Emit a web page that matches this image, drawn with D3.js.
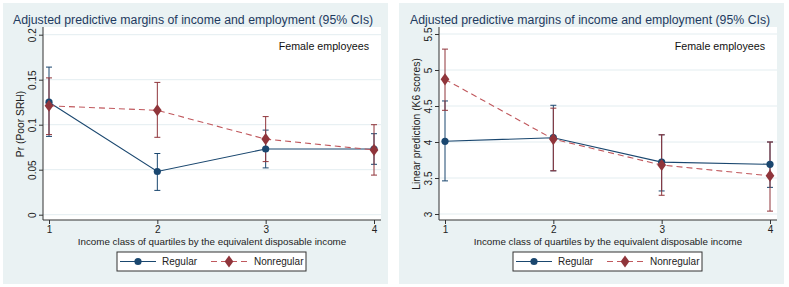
<!DOCTYPE html>
<html>
<head>
<meta charset="utf-8">
<script src="https://cdn.jsdelivr.net/npm/d3@7"></script>
<style>
  body { margin: 0; background: #ffffff; }
  text { font-family: "Liberation Sans", Arial, sans-serif; }
</style>
</head>
<body>
<div id="chart"></div>
<script>
// income quartile classes
var categories = [1, 2, 3, 4];

// left panel: Pr(Poor SRH)
var srhTicks = [0, 0.05, 0.1, 0.15, 0.2];
var srhTickLabels = ["0", "0.05", "0.1", "0.15", "0.2"];
var srhRegular = [0.125, 0.048, 0.073, 0.073];
var srhRegularLo = [0.087, 0.027, 0.052, 0.056];
var srhRegularHi = [0.164, 0.068, 0.094, 0.090];
var srhNonregular = [0.121, 0.116, 0.084, 0.072];
var srhNonregularLo = [0.089, 0.086, 0.059, 0.044];
var srhNonregularHi = [0.152, 0.147, 0.109, 0.100];

// right panel: K6 scores
var k6Ticks = [3, 3.5, 4, 4.5, 5, 5.5];
var k6TickLabels = ["3", "3.5", "4", "4.5", "5", "5.5"];
var k6Regular = [4.01, 4.06, 3.72, 3.69];
var k6RegularLo = [3.46, 3.60, 3.32, 3.37];
var k6RegularHi = [4.57, 4.51, 4.10, 4.00];
var k6Nonregular = [4.87, 4.04, 3.68, 3.53];
var k6NonregularLo = [4.44, 3.60, 3.26, 3.04];
var k6NonregularHi = [5.29, 4.47, 4.10, 4.00];

var seriesNames = ["Regular", "Nonregular"];

var w = 789;
var h = 287;
var navy = "#1a476f";
var maroon = "#90353b";
var bgColor = "#eaf2f3";

var svg = d3.select("#chart")
  .append("svg")
  .attr("width", w)
  .attr("height", h);

function drawPanel(ox, opts) {
  var g = svg.append("g").attr("transform", "translate(" + ox + ",0)");

  // graph region
  g.append("rect")
    .attr("x", 3).attr("y", 3)
    .attr("width", 385).attr("height", 281)
    .attr("fill", bgColor);

  // plot region
  var left = 43, right = 381, top = 27, bottom = 220;
  g.append("rect")
    .attr("x", left).attr("y", top)
    .attr("width", right - left).attr("height", bottom - top)
    .attr("fill", "#ffffff");

  var xScale = d3.scaleLinear().domain([1, 4]).range([49, 374]);
  var yScale = d3.scaleLinear().domain(opts.yDomain).range(opts.yRange);

  // gridlines
  g.selectAll("line.grid")
    .data(opts.ticks)
    .enter()
    .append("line")
    .attr("class", "grid")
    .attr("x1", left).attr("x2", right)
    .attr("y1", function(d) { return yScale(d); })
    .attr("y2", function(d) { return yScale(d); })
    .attr("stroke", "#e3edf0")
    .attr("stroke-width", 1);

  // y axis
  var yAxis = d3.axisLeft(yScale)
    .tickValues(opts.ticks)
    .tickSize(4)
    .tickSizeOuter(0)
    .tickFormat(function(d, i) { return opts.tickLabels[i]; });
  var ya = g.append("g").attr("transform", "translate(" + left + ",0)").call(yAxis);
  ya.select(".domain").remove();
  ya.selectAll(".tick line").attr("stroke", "#333");
  ya.selectAll(".tick text")
    .attr("x", 0).attr("y", 0).attr("dy", "0.35em")
    .attr("text-anchor", "middle")
    .attr("transform", "translate(-11,0) rotate(-90)")
    .attr("font-size", 10)
    .attr("fill", "#222");
  g.append("line")
    .attr("x1", left).attr("x2", left)
    .attr("y1", top).attr("y2", bottom)
    .attr("stroke", "#333");

  // x axis
  var xAxis = d3.axisBottom(xScale).tickValues(categories).tickSize(4).tickSizeOuter(0)
    .tickFormat(d3.format("d"));
  var xa = g.append("g").attr("transform", "translate(0," + bottom + ")").call(xAxis);
  xa.select(".domain").remove();
  xa.selectAll(".tick line").attr("stroke", "#333");
  xa.selectAll(".tick text").attr("y", 6).attr("font-size", 10).attr("fill", "#222");
  g.append("line")
    .attr("x1", left).attr("x2", right)
    .attr("y1", bottom).attr("y2", bottom)
    .attr("stroke", "#333");

  // CI caps
  function drawCI(lo, hi, color) {
    var cg = g.append("g");
    categories.forEach(function(c, i) {
      var x = xScale(c);
      cg.append("line").attr("x1", x).attr("x2", x)
        .attr("y1", yScale(lo[i])).attr("y2", yScale(hi[i]))
        .attr("stroke", color).attr("stroke-width", 1);
      [lo[i], hi[i]].forEach(function(v) {
        cg.append("line").attr("x1", x - 3).attr("x2", x + 3)
          .attr("y1", yScale(v)).attr("y2", yScale(v))
          .attr("stroke", color).attr("stroke-width", 1);
      });
    });
  }
  drawCI(opts.regLo, opts.regHi, navy);
  drawCI(opts.nonLo, opts.nonHi, maroon);

  var line = d3.line()
    .x(function(d, i) { return xScale(categories[i]); })
    .y(function(d) { return yScale(d); });

  g.append("path").datum(opts.reg)
    .attr("d", line).attr("fill", "none")
    .attr("stroke", navy).attr("stroke-width", 1.1);
  g.selectAll("circle.reg").data(opts.reg).enter()
    .append("circle").attr("class", "reg")
    .attr("cx", function(d, i) { return xScale(categories[i]); })
    .attr("cy", function(d) { return yScale(d); })
    .attr("r", 3.6).attr("fill", navy);

  g.append("path").datum(opts.non)
    .attr("d", line).attr("fill", "none")
    .attr("stroke", "#c0585d").attr("stroke-width", 1.1)
    .attr("stroke-dasharray", "6,4");
  var diamond = d3.symbol().type(d3.symbolDiamond).size(42);
  g.selectAll("path.non").data(opts.non).enter()
    .append("path").attr("class", "non")
    .attr("d", diamond)
    .attr("transform", function(d, i) {
      return "translate(" + xScale(categories[i]) + "," + yScale(d) + ") scale(1.25,1)";
    })
    .attr("fill", maroon);

  // title
  g.append("text")
    .attr("x", opts.titleX).attr("y", 24)
    .attr("font-size", 12.3)
    .attr("fill", "#1e3a5f")
    .text("Adjusted predictive margins of income and employment (95% CIs)");

  g.append("text")
    .attr("x", 369).attr("y", 50)
    .attr("text-anchor", "end")
    .attr("font-size", 10.7)
    .attr("fill", "#111")
    .text("Female employees");

  // axis titles
  g.append("text")
    .attr("x", 212).attr("y", 245)
    .attr("text-anchor", "middle")
    .attr("font-size", 9.8)
    .attr("fill", "#222")
    .text("Income class of quartiles by the equivalent disposable income");

  g.append("text")
    .attr("transform", "translate(" + opts.yLabelX + ",124) rotate(-90)")
    .attr("text-anchor", "middle")
    .attr("font-size", 10.3)
    .attr("fill", "#222")
    .text(opts.yLabel);

  // legend
  var lg = g.append("g");
  lg.append("rect")
    .attr("x", 117).attr("y", 252)
    .attr("width", 189).attr("height", 19)
    .attr("fill", "#fff").attr("stroke", "#333").attr("stroke-width", 1);
  lg.append("line").attr("x1", 120).attr("x2", 156).attr("y1", 261.5).attr("y2", 261.5)
    .attr("stroke", navy).attr("stroke-width", 1.1);
  lg.append("circle").attr("cx", 138).attr("cy", 261.5).attr("r", 3.6).attr("fill", navy);
  lg.append("text").attr("x", 162).attr("y", 265.2).attr("font-size", 10).attr("fill", "#222")
    .text(seriesNames[0]);
  lg.append("line").attr("x1", 211).attr("x2", 248).attr("y1", 261.5).attr("y2", 261.5)
    .attr("stroke", "#c0585d").attr("stroke-width", 1.1).attr("stroke-dasharray", "6,4");
  lg.append("path").attr("d", diamond)
    .attr("transform", "translate(229,261.5) scale(1.25,1)")
    .attr("fill", maroon);
  lg.append("text").attr("x", 254).attr("y", 265.2).attr("font-size", 10).attr("fill", "#222")
    .text(seriesNames[1]);
}

drawPanel(0, {
  yDomain: [0, 0.2], yRange: [214.7, 34.7],
  ticks: srhTicks, tickLabels: srhTickLabels,
  reg: srhRegular, regLo: srhRegularLo, regHi: srhRegularHi,
  non: srhNonregular, nonLo: srhNonregularLo, nonHi: srhNonregularHi,
  titleX: 13, yLabel: "Pr (Poor SRH)", yLabelX: 24
});

drawPanel(396, {
  yDomain: [3, 5.5], yRange: [214, 34],
  ticks: k6Ticks, tickLabels: k6TickLabels,
  reg: k6Regular, regLo: k6RegularLo, regHi: k6RegularHi,
  non: k6Nonregular, nonLo: k6NonregularLo, nonHi: k6NonregularHi,
  titleX: 14, yLabel: "Linear prediction (K6 scores)", yLabelX: 24
});
</script>
</body>
</html>
